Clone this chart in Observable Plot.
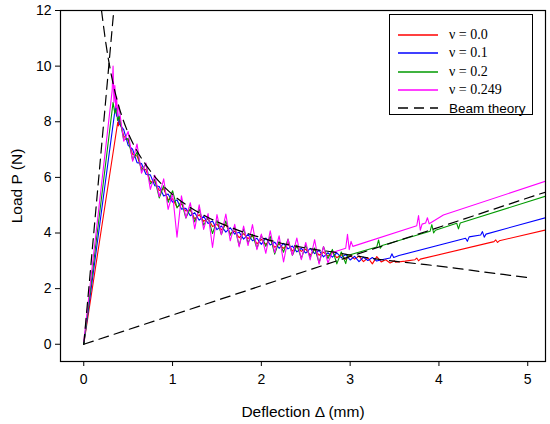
<!DOCTYPE html>
<html><head><meta charset="utf-8">
<script src="https://cdn.jsdelivr.net/npm/d3@7"></script>
<script src="https://cdn.jsdelivr.net/npm/@observablehq/plot@0.6"></script>
<style>
body{margin:0;background:#fff;}
#wrap{position:relative;width:550px;height:424px;font-family:"Liberation Sans",Arial,sans-serif;}
#legend{position:absolute;left:389px;top:14px;width:144px;height:101px;border:1px solid #000;background:#fff;box-sizing:border-box;}
.row{position:absolute;left:8px;height:18px;display:flex;align-items:center;}
.lab{font-family:"Liberation Serif","Times New Roman",serif;font-size:14px;}
.lab2{font-family:"Liberation Sans",Arial,sans-serif;font-size:13.5px;}
</style></head>
<body><div id="wrap"><div id="legend"></div></div>
<script>
// Descent region: deflection grid and average load
const gridD = [0.40,0.45,0.50,0.55,0.60,0.65,0.70,0.75,0.80,0.85,
  0.90,0.95,1.00,1.05,1.10,1.15,1.20,1.25,1.30,1.35,
  1.40,1.45,1.50,1.55,1.60,1.65,1.70,1.75,1.80,1.85,
  1.90,1.95,2.00,2.05,2.10,2.15,2.20,2.25,2.30,2.35,
  2.40,2.45,2.50,2.55,2.60,2.65,2.70,2.75,2.80,2.85,
  2.90,2.95,3.00,3.05,3.10,3.15,3.20,3.25,3.30,3.35,
  3.40,3.45,3.50];
const meanP = [8.00,7.60,7.25,6.93,6.65,6.40,6.17,5.97,5.78,5.61,
  5.45,5.30,5.17,5.05,4.94,4.84,4.74,4.65,4.56,4.48,
  4.40,4.33,4.26,4.19,4.13,4.07,4.01,3.95,3.90,3.85,
  3.80,3.75,3.71,3.67,3.63,3.59,3.55,3.51,3.48,3.45,
  3.42,3.39,3.36,3.33,3.31,3.28,3.26,3.23,3.21,3.19,
  3.17,3.15,3.13,3.11,3.09,3.07,3.06,3.04,3.03,3.01,
  3.00,2.98,2.97];
// Per-series scatter around the average
const noiseNu0 = [0.10,-0.12,0.08,-0.10,0.12,-0.06,0.10,-0.12,0.06,-0.08,
  0.14,-0.10,0.06,-0.12,0.10,-0.05,0.08,-0.14,0.10,-0.06,
  0.12,-0.10,0.05,-0.08,0.18,-0.10,0.06,-0.12,0.08,-0.05,
  0.10,-0.14,0.06,-0.08,0.12,-0.10,0.05,-0.06,0.15,-0.10,
  0.08,-0.05,0.06,-0.12,0.10,-0.08,0.05,-0.06,0.10,-0.08,
  0.05,-0.10,0.06,-0.05,0.08,-0.10,0.05,-0.15,0.12,-0.05,
  0.04,-0.06,0.03];
const noiseNu1 = [-0.08,0.12,-0.10,0.08,-0.12,0.10,-0.06,0.12,-0.08,0.06,
  -0.12,0.10,-0.06,0.14,-0.08,0.05,-0.12,0.08,-0.10,0.12,
  -0.06,0.10,-0.14,0.06,-0.10,0.12,-0.05,0.08,-0.12,0.10,
  -0.08,0.06,-0.12,0.15,-0.06,0.08,-0.10,0.12,-0.05,0.08,
  -0.10,0.06,-0.08,0.12,-0.05,0.10,-0.12,0.06,-0.08,0.10,
  -0.06,0.08,-0.10,0.05,-0.12,0.06,-0.05,0.08,-0.04,0.06,
  -0.05,0.04,-0.03];
const noiseNu2 = [0.20,-0.25,0.15,-0.30,0.25,-0.15,0.30,-0.20,0.15,-0.35,
  0.25,-0.20,0.35,-0.15,0.20,-0.30,0.15,-0.25,0.30,-0.20,
  0.15,-0.35,0.20,-0.25,0.30,-0.15,0.20,-0.40,0.25,-0.20,
  0.15,-0.30,0.20,-0.15,0.25,-0.35,0.15,-0.20,0.30,-0.25,
  0.15,-0.30,0.20,-0.20,0.15,-0.35,0.25,-0.15,0.20,-0.30,
  0.15,-0.25,0.10,-0.30,0.20,-0.15,0.10,-0.20,0.15,-0.10,
  0.10,-0.15,0.08];
const noiseNu249 = [0.45,-0.30,0.40,-0.35,0.55,-0.25,0.35,-0.40,0.30,-0.30,
  0.50,-0.45,0.25,-1.20,0.40,-0.30,0.35,-0.50,0.45,-0.35,
  0.30,-0.85,0.40,-0.25,0.55,-0.35,0.30,-0.45,0.35,-0.30,
  0.50,-0.35,0.25,-0.40,0.45,-0.30,0.35,-0.55,0.30,-0.25,
  0.40,-0.35,0.30,-0.30,0.45,-0.40,0.25,-0.30,0.35,-0.25,
  0.30,-0.35,0.25,-0.20,0.30,-0.25,0.20,-0.30,0.25,-0.20,
  0.20,-0.25,0.15];
// Loading branch up to the peak [deflection, load]
const riseNu0 = [[0,0],[0.383,7.99],[0.39,7.85]];
const riseNu1 = [[0,0],[0.357,8.55],[0.37,8.2],[0.38,8.35]];
const riseNu2 = [[0,0],[0.33,8.7],[0.35,8.3],[0.37,8.5],[0.38,8.05]];
const riseNu249 = [[0,0.1],[0.32,9.13],[0.33,10.0],[0.34,8.7],[0.35,9.3],[0.36,8.5],[0.37,8.9],[0.38,8.2],[0.39,8.6]];
// Where each curve leaves the descending branch
const departNu0 = 3.50, departNu1 = 3.30, departNu2 = 2.95, departNu249 = 2.75;
// Re-loading branch after leaving the descent [deflection, load]
const tailNu0 = [[3.51,2.95],[3.62,2.99],[3.73,3.04],[3.75,3.10],[3.77,3.00],[3.79,3.06],[4.62,3.69],[4.64,3.75],[4.66,3.66],[4.68,3.72],[5.2,4.11]];
const tailNu1 = [[3.34,3.03],[3.45,3.10],[3.47,3.25],[3.49,3.12],[3.55,3.19],[4.30,3.81],[4.32,3.70],[4.34,3.86],[4.47,3.93],[4.49,4.05],[4.51,3.85],[4.53,3.96],[5.2,4.55]];
const tailNu2 = [[2.97,3.19],[3.30,3.50],[3.32,3.75],[3.34,3.45],[3.36,3.55],[3.90,4.06],[3.92,4.30],[3.94,4.00],[3.96,4.10],[4.20,4.35],[4.22,4.15],[4.24,4.36],[5.2,5.32]];
const tailNu249 = [[2.80,3.30],[2.95,3.45],[2.97,3.95],[2.99,3.40],[3.01,3.70],[3.03,3.52],[3.75,4.26],[3.77,4.63],[3.79,4.10],[3.81,4.32],[3.85,4.36],[3.87,4.55],[3.89,4.33],[4.05,4.65],[5.2,5.86]];
// Beam theory curves [deflection, load]
const beamSteep = [[0,0],[0.338,12]];
const beamShallow = [[0,0],[5.2,5.47]];
const beamDecay = [[0.2,12],[0.25,10.8],[0.3,9.85],[0.35,9.1],[0.4,8.5],[0.5,7.6],[0.6,6.95],[0.7,6.45],[0.8,6.03],[0.9,5.68],[1.0,5.38],[1.2,4.92],[1.4,4.56],[1.6,4.27],[1.8,4.03],[2.0,3.83],[2.2,3.65],[2.4,3.52],[2.6,3.41],[2.8,3.32],[3.0,3.21],[3.2,3.11],[3.4,3.02],[3.6,2.95],[3.8,2.88],[4.0,2.81],[4.2,2.73],[4.5,2.60],[4.8,2.48],[5.03,2.39]];
const xTicks = [0,1,2,3,4,5];
const yTicks = [0,2,4,6,8,10,12];
const seriesNames = ["ν = 0.0","ν = 0.1","ν = 0.2","ν = 0.249"];
const seriesColors = ["#ff0000","#0000ff","#009a00","#ff00ff"];

function build(rise, noise, depart, tail){
  const pts = rise.map(([d,p])=>({d,p}));
  const last = rise[rise.length-1][0];
  gridD.forEach((d,i)=>{ if(d>last && d<=depart+1e-9) pts.push({d, p: meanP[i] + (noise[i]||0)}); });
  tail.forEach(([d,p])=>pts.push({d,p}));
  return pts;
}
const series = [
  build(riseNu0, noiseNu0, departNu0, tailNu0),
  build(riseNu1, noiseNu1, departNu1, tailNu1),
  build(riseNu2, noiseNu2, departNu2, tailNu2),
  build(riseNu249, noiseNu249, departNu249, tailNu249)
];
const toObj = a => a.map(([d,p])=>({d,p}));
const dash = "10,6";

const chart = Plot.plot({
  width: 550, height: 424,
  marginLeft: 60, marginRight: 5, marginTop: 10, marginBottom: 63,
  style: {fontFamily: '"Liberation Sans", Arial, sans-serif', fontSize: "14px", color: "#000", background: "#fff"},
  x: {domain: [-0.262, 5.2]},
  y: {domain: [-0.62, 12]},
  marks: [
    ...series.map((s,i)=>Plot.line(s, {x:"d", y:"p", stroke: seriesColors[i], strokeWidth: 1.1, clip: true})),
    Plot.line(toObj(beamSteep), {x:"d", y:"p", stroke:"#000", strokeWidth:1.2, strokeDasharray:dash, clip:true}),
    Plot.line(toObj(beamShallow), {x:"d", y:"p", stroke:"#000", strokeWidth:1.2, strokeDasharray:dash, clip:true}),
    Plot.line(toObj(beamDecay), {x:"d", y:"p", stroke:"#000", strokeWidth:1.2, strokeDasharray:dash, curve:"monotone-x", clip:true}),
    Plot.frame({stroke:"#000", strokeWidth:1.2}),
    Plot.axisX({ticks: xTicks, tickFormat: d=>String(d), tickSize: 5, tickPadding: 8, fontSize: 14, label: "Deflection Δ (mm)", labelAnchor:"center", labelArrow:"none", labelOffset: 55}),
    Plot.axisY({ticks: yTicks, tickFormat: d=>String(d), tickSize: 5, tickPadding: 4, fontSize: 14, label: "Load P (N)", labelAnchor:"center", labelArrow:"none", labelOffset: 50})
  ]
});
document.getElementById("wrap").prepend(chart);
chart.style.position = "absolute"; chart.style.left = "0"; chart.style.top = "0";
chart.querySelectorAll('g[aria-label="x-axis label"] text, g[aria-label="y-axis label"] text').forEach(t=>t.setAttribute("font-size","15.5"));

const legend = document.getElementById("legend");
const tops = [11, 29, 48, 66, 84];
seriesNames.forEach((n,i)=>{
  const r = document.createElement("div"); r.className="row"; r.style.top = tops[i]+"px";
  r.innerHTML = `<svg width="40" height="4" style="margin-right:11px"><line x1="0" y1="2" x2="40" y2="2" stroke="${seriesColors[i]}" stroke-width="1.3"/></svg><span class="lab">${n}</span>`;
  legend.appendChild(r);
});
const rb = document.createElement("div"); rb.className="row"; rb.style.top = tops[4]+"px";
rb.innerHTML = `<svg width="40" height="4" style="margin-right:11px"><line x1="0" y1="2" x2="40" y2="2" stroke="#000" stroke-width="1.3" stroke-dasharray="${dash}"/></svg><span class="lab2">Beam theory</span>`;
legend.appendChild(rb);
</script></body></html>
